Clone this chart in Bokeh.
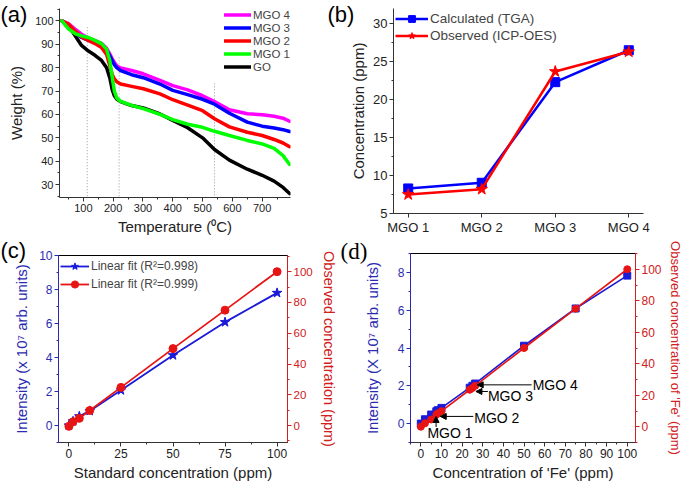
from bokeh.plotting import figure
from bokeh.models import (Range1d, LinearAxis, SingleIntervalTicker, FixedTicker,
                          Legend, LegendItem, Arrow, NormalHead, GridBox)
from bokeh.layouts import column, row
from bokeh.embed import file_html
from bokeh.resources import INLINE
from bokeh.core.properties import value

FONT = "Liberation Sans"

# ---------------- (a) TGA data ----------------
temp = [28, 50, 72, 94, 117, 139, 161, 178, 189, 197, 204, 212, 225, 262, 301,
        357, 400, 450, 500, 540, 590, 650, 700, 740, 770, 792]
w_go = [100, 97.9, 93.8, 89.5, 87.1, 85.3, 83.1, 80.0, 75.5, 70.5, 68.0, 66.6, 65.5,
        63.8, 62.8, 60.2, 57.5, 54.3, 50.0, 45.0, 40.5, 36.6, 34.0, 31.5, 28.8, 26.2]
w_mgo1 = [100, 96.6, 94.6, 93.6, 92.9, 91.7, 90.3, 87.9, 82.9, 75.7, 70.0, 67.1, 65.6,
          63.9, 62.5, 60.0, 57.8, 55.8, 54.5, 52.8, 51.0, 48.9, 47.4, 45.5, 42.4, 38.6]
w_mgo2 = [100, 98.6, 95.7, 93.1, 91.7, 90.3, 88.6, 85.7, 80.7, 77.0, 75.2, 74.0, 73.0,
          72.0, 71.0, 68.8, 66.3, 64.0, 61.6, 58.2, 54.7, 52.4, 51.0, 49.3, 47.8, 46.2]
w_mgo3 = [100, 97.9, 95.0, 92.9, 91.7, 90.7, 89.3, 87.5, 85.0, 83.0, 81.3, 80.0, 78.7,
          77.0, 75.7, 73.0, 70.3, 68.5, 66.5, 64.4, 60.5, 56.7, 55.0, 54.2, 53.5, 52.7]
w_mgo4 = [100, 98.8, 96.5, 94.3, 92.7, 91.6, 90.4, 88.3, 85.8, 83.8, 82.3, 80.8, 79.9,
          78.8, 77.4, 74.6, 72.3, 70.5, 68.0, 65.5, 62.0, 60.3, 59.9, 59.2, 58.4, 57.1]
vline_x = [113, 220, 540]
vline_top = [97.3, 84.4, 73.3]

# ---------------- (b) concentration ----------------
b_cats = ["MGO 1", "MGO 2", "MGO 3", "MGO 4"]
b_pos = [1, 2, 3, 4]
b_calc = [8.3, 9.05, 22.3, 26.5]
b_obs = [7.5, 8.2, 23.7, 26.3]

# ---------------- (c) calibration ----------------
c_std = [0, 2, 5, 10, 25, 50, 75, 100]
c_int = [0.0, 0.25, 0.54, 0.86, 2.07, 4.13, 6.08, 7.8]
c_obs = [-0.5, 2.5, 4.7, 9.8, 24.8, 50.0, 75.0, 100.0]

# ---------------- (d) Fe concentration ----------------
d_fe = [0, 2, 5, 7.5, 8.2, 10, 23.7, 25, 26.3, 50, 75, 100]
d_int = [0.0, 0.23, 0.48, 0.65, 0.71, 0.83, 1.9, 2.0, 2.12, 4.12, 6.09, 7.83]
d_obs = [0.0, 2.2, 4.6, 7.6, 8.5, 9.9, 23.5, 24.6, 26.0, 50.0, 75.0, 100.0]
d_labels = ["MGO 1", "MGO 2", "MGO 3", "MGO 4"]
d_label_x = [3.2, 25.9, 32.5, 54.2]
d_label_y = [-0.5, 0.32, 1.45, 2.05]
d_arrow_x0 = [7.4, 25.4, 32.5, 53.7]
d_arrow_y0 = [-0.18, 0.38, 1.7, 2.05]
d_arrow_x1 = [7.4, 9.4, 26.7, 27.3]
d_arrow_y1 = [0.38, 0.38, 1.7, 2.05]

# ---------------- panel tags ----------------
tag_sans = ["(a)", "(b)", "(c)"]
tag_sans_x = [0, 327, 0]
tag_sans_y = [1, 1, 237]
tag_serif = ["(d)"]
tag_serif_x = [340]
tag_serif_y = [238]

W, H = 685, 483
BLUE_C = "#1a1ad8"
RED_C = "#e81414"
BLUE_T = "#2b2bb0"
RED_T = "#d02020"


def style_axis(ax, tick_size="11px", label_size="15px", color="#222222",
               line_color="#333333", label_standoff=3):
    ax.major_label_text_font = FONT
    ax.major_label_text_font_size = tick_size
    ax.major_label_text_color = color
    ax.axis_label_text_font = FONT
    ax.axis_label_text_font_size = label_size
    ax.axis_label_text_font_style = "normal"
    ax.axis_label_text_color = color
    ax.axis_line_color = line_color
    ax.major_tick_line_color = line_color
    ax.minor_tick_line_color = line_color
    ax.major_tick_out = 4
    ax.major_tick_in = 0
    ax.minor_tick_out = 2
    ax.minor_tick_in = 0
    ax.major_label_standoff = 2
    ax.axis_label_standoff = label_standoff


def base_fig(w, h, xr, yr, bl, br, bt, bb):
    p = figure(width=w, height=h, x_range=Range1d(*xr), y_range=Range1d(*yr),
               output_backend="svg", toolbar_location=None,
               min_border_left=bl, min_border_right=br,
               min_border_top=bt, min_border_bottom=bb)
    p.xgrid.visible = False
    p.ygrid.visible = False
    p.background_fill_color = "white"
    p.border_fill_color = "white"
    return p


# ================= panel (a) =================
pa = base_fig(326, 238, (20, 795), (24.5, 105.3), 59, 36, 8, 41)
pa.outline_line_color = None
pa.segment(x0=vline_x, y0=vline_top, x1=vline_x, y1=[pa.y_range.start] * len(vline_x),
           line_color="#9a9a9a", line_width=1, line_dash="1 2")
series_a = [("GO", w_go, "black"), ("MGO 4", w_mgo4, "#ff00ff"),
            ("MGO 3", w_mgo3, "#0000ff"), ("MGO 2", w_mgo2, "#ff0000"),
            ("MGO 1", w_mgo1, "#00ff00")]
rend_a = {}
for name, ys, col in series_a:
    rend_a[name] = pa.line(temp, ys, line_color=col, line_width=3.5,
                           line_join="round", line_cap="round")
leg_a = Legend(items=[LegendItem(label=n, renderers=[rend_a[n]])
                      for n in ["MGO 4", "MGO 3", "MGO 2", "MGO 1", "GO"]],
               location="top_right")
leg_a.label_text_font = FONT
leg_a.label_text_font_size = "11.5px"
leg_a.glyph_width = 27
leg_a.glyph_height = 13
leg_a.label_height = 13
leg_a.label_standoff = 2
leg_a.spacing = 0
leg_a.padding = 0
leg_a.margin = 0
leg_a.border_line_color = None
leg_a.background_fill_alpha = 0
pa.add_layout(leg_a)
pa.xaxis.ticker = SingleIntervalTicker(interval=100, num_minor_ticks=2)
pa.yaxis.ticker = SingleIntervalTicker(interval=10, num_minor_ticks=2)
pa.xaxis.axis_label = "Temperature (\u2070C)"
pa.yaxis.axis_label = "Weight (%)"
for ax in pa.xaxis:
    style_axis(ax)
for ax in pa.yaxis:
    style_axis(ax, label_standoff=7)

# ================= panel (b) =================
pb = base_fig(359, 238, (0.8, 4.2), (5, 32), 67, 42, 8, 25)
pb.outline_line_color = None
pb.line(b_pos, b_calc, line_color="#0000ff", line_width=2.5, legend_label="Calculated (TGA)")
pb.scatter(b_pos, b_calc, marker="square", size=9, fill_color="#0000ff",
           line_color="#0000ff", legend_label="Calculated (TGA)")
pb.line(b_pos, b_obs, line_color="#ff0000", line_width=2.5, legend_label="Observed (ICP-OES)")
pb.scatter(b_pos, b_obs, marker="star", size=12, fill_color="#ff0000",
           line_color="#ff0000", legend_label="Observed (ICP-OES)")
pb.legend.location = "top_left"
pb.legend.label_text_font = FONT
pb.legend.label_text_font_size = "13.5px"
pb.legend.glyph_width = 33
pb.legend.glyph_height = 17
pb.legend.label_height = 17
pb.legend.label_standoff = 2
pb.legend.spacing = 0
pb.legend.padding = 0
pb.legend.margin = 2
pb.legend.border_line_color = None
pb.legend.background_fill_alpha = 0
pb.xaxis.ticker = FixedTicker(ticks=b_pos)
pb.xaxis.major_label_overrides = {p: c for p, c in zip(b_pos, b_cats)}
pb.yaxis.ticker = SingleIntervalTicker(interval=5, num_minor_ticks=2)
pb.yaxis.axis_label = "Concentration (ppm)"
for ax in pb.xaxis + pb.yaxis:
    style_axis(ax, tick_size="13px")

# ================= panel (c) =================
pc = base_fig(339, 245, (-5, 105), (-1, 10), 58, 48, 17, 36)
pc.outline_line_color = "black"
pc.extra_y_ranges = {"obs": Range1d(-11, 110.5)}
pc.line(c_std, c_int, line_color=BLUE_C, line_width=1.8, legend_label="Linear fit (R\u00b2=0.998)")
pc.scatter(c_std, c_int, marker="star", size=10, fill_color=BLUE_C, line_color=BLUE_C,
           legend_label="Linear fit (R\u00b2=0.998)")
pc.line(c_std, c_obs, line_color=RED_C, line_width=1.8, y_range_name="obs",
        legend_label="Linear fit (R\u00b2=0.999)")
pc.scatter(c_std, c_obs, marker="circle", size=8, fill_color=RED_C, line_color=RED_C,
           y_range_name="obs", legend_label="Linear fit (R\u00b2=0.999)")
pc.legend.location = "top_left"
pc.legend.label_text_font = FONT
pc.legend.label_text_font_size = "12px"
pc.legend.glyph_width = 29
pc.legend.glyph_height = 18
pc.legend.label_height = 18
pc.legend.label_standoff = 2
pc.legend.spacing = 0
pc.legend.padding = 0
pc.legend.margin = 2
pc.legend.border_line_color = None
pc.legend.background_fill_alpha = 0
ax_c_right = LinearAxis(y_range_name="obs", axis_label="Observed concentration (ppm)",
                        ticker=SingleIntervalTicker(interval=20, num_minor_ticks=2))
pc.add_layout(ax_c_right, "right")
pc.xaxis.ticker = SingleIntervalTicker(interval=25, num_minor_ticks=2)
pc.yaxis[0].ticker = SingleIntervalTicker(interval=2, num_minor_ticks=2)
pc.xaxis.axis_label = "Standard concentration (ppm)"
pc.yaxis[0].axis_label = "Intensity (x 10\u2077 arb. units)"
for ax in pc.xaxis:
    style_axis(ax, tick_size="12px")
style_axis(pc.yaxis[0], tick_size="12px", color=BLUE_T, line_color=BLUE_T, label_standoff=6)
style_axis(ax_c_right, tick_size="11.5px", label_size="14.5px", color=RED_T,
           line_color=RED_T, label_standoff=5)

# ================= panel (d) =================
pd_ = base_fig(346, 245, (-5, 104), (-1, 9), 71, 42, 15, 39)
pd_.outline_line_color = "black"
pd_.extra_y_ranges = {"obs": Range1d(-10, 110)}
pd_.line(d_fe, d_int, line_color=BLUE_C, line_width=1.6)
pd_.scatter(d_fe, d_int, marker="square", size=7, fill_color=BLUE_C, line_color=BLUE_C)
pd_.line(d_fe, d_obs, line_color=RED_C, line_width=1.6, y_range_name="obs")
pd_.scatter(d_fe, d_obs, marker="circle", size=7, fill_color=RED_C, line_color=RED_C,
            y_range_name="obs")
for x0, y0, x1, y1 in zip(d_arrow_x0, d_arrow_y0, d_arrow_x1, d_arrow_y1):
    pd_.add_layout(Arrow(end=NormalHead(size=6, fill_color="black", line_color="black"),
                         x_start=x0, y_start=y0, x_end=x1, y_end=y1,
                         line_color="black", line_width=1))
pd_.text(x=d_label_x, y=d_label_y, text=d_labels, text_font=value(FONT),
         text_font_size=value("14px"), text_baseline="middle", text_align="left",
         text_color="black")
ax_d_right = LinearAxis(y_range_name="obs", axis_label="Observed concentration of 'Fe' (ppm)",
                        ticker=SingleIntervalTicker(interval=20, num_minor_ticks=2))
pd_.add_layout(ax_d_right, "right")
pd_.xaxis.ticker = SingleIntervalTicker(interval=10, num_minor_ticks=2)
pd_.yaxis[0].ticker = SingleIntervalTicker(interval=2, num_minor_ticks=2)
pd_.xaxis.axis_label = "Concentration of 'Fe' (ppm)"
pd_.yaxis[0].axis_label = "Intensity (X 10\u2077 arb. units)"
for ax in pd_.xaxis:
    style_axis(ax, tick_size="12px")
style_axis(pd_.yaxis[0], tick_size="12px", color=BLUE_T, line_color=BLUE_T, label_standoff=14)
style_axis(ax_d_right, tick_size="12px", label_size="13px", color=RED_T, line_color=RED_T)

# ================= transparent overlay for the panel tags =================
ov = figure(width=W, height=H, x_range=Range1d(0, W), y_range=Range1d(H, 0),
            x_axis_type=None, y_axis_type=None, output_backend="svg",
            toolbar_location=None, min_border=0)
ov.xgrid.visible = False
ov.ygrid.visible = False
ov.outline_line_color = None
ov.background_fill_color = None
ov.border_fill_color = None
ov.text(x=tag_sans_x, y=tag_sans_y, text=tag_sans, text_font=value(FONT),
        text_font_size=value("22px"), text_baseline="top", text_align="left",
        text_color="black")
ov.text(x=tag_serif_x, y=tag_serif_y, text=tag_serif, text_font=value("Liberation Serif"),
        text_font_size=value("23px"), text_baseline="top", text_align="left",
        text_color="black")

charts = column(row(column(pa), column(pb)), row(column(pc), column(pd_)))
layout = GridBox(children=[(charts, 0, 0), (ov, 0, 0)])
open("out.html", "w").write(file_html(layout, INLINE))
